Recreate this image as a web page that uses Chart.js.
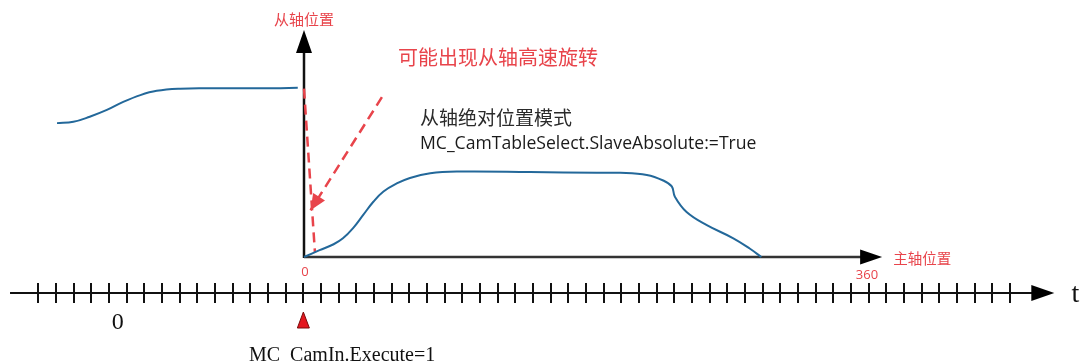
<!DOCTYPE html>
<html lang="zh">
<head>
<meta charset="utf-8">
<title>MC_CamIn 从轴绝对位置模式</title>
<script src="https://cdn.jsdelivr.net/npm/chart.js@4.4.1/dist/chart.umd.min.js"></script>
<style>
  html, body { margin: 0; padding: 0; background: #fff; }
  #wrap { width: 1085px; height: 362px; position: relative; }
</style>
</head>
<body>
<div id="wrap"><canvas id="camChart"></canvas></div>
<script>
// Cam profile after MC_CamIn (master in degrees, slave in % of stroke)
const camMaster = [0, 10, 19, 25, 31.5, 38, 44.5, 51, 59.5, 68, 81, 98, 145, 188, 203, 220, 230.5, 236, 238, 245.5, 258.5, 275.5, 286, 293.5];
const camSlave  = [0, 8, 15, 22, 34, 49.5, 65, 77, 86.5, 93, 98.5, 100.5, 100, 99, 99, 96.5, 90, 83, 71, 53, 37.5, 22, 10, 0];

// Slave motion before the cam gets engaged
const prevMaster = [-158.5, -148, -137.5, -126.5, -116, -105, -94.5, -79.5, -62.5, -41, -19.5, -4];
const prevSlave  = [157.5, 159, 165, 173, 182.5, 190.5, 195.5, 198, 198.5, 198.5, 198.5, 199];

// Red dashed lines: possible jump of the slave
const jumpMaster = [0, 7];
const jumpSlave  = [198, 6];
const jumpArrowMaster = [50, 4.2];
const jumpArrowSlave  = [188, 55];

// Axes
const masterLabels  = ['0', '360'];
const masterLabelAt = [0, 360];
const timeTickCount = 56;
const timeLabels    = ['0'];
const timeLabelAt   = [4.5];
const camInTick     = 15;

const W = 1085, H = 362;
const ORIGIN_X = 304, ORIGIN_Y = 257;
const PX_PER_DEG = 561 / 360;
const PX_PER_UNIT = 0.85;
const TICK0_X = 38.3, TICK_PX = 17.67;
const TIME_AXIS_Y = 293;
const SLAVE_AXIS_END = 267;
const MASTER_AXIS_END = 371;
const TIME_AXIS_START = -1.6, TIME_AXIS_END = 57.5;

const RED = '#e8444b';
const BLUE = '#23689a';

function toPoints(xs, ys) {
    return xs.map((x, i) => ({ x: x, y: ys[i] }));
}

function arrowHead(ctx, tipX, tipY, angle, len, half, color) {
    ctx.save();
    ctx.translate(tipX, tipY);
    ctx.rotate(angle);
    ctx.beginPath();
    ctx.moveTo(0, 0);
    ctx.lineTo(-len, -half);
    ctx.lineTo(-len, half);
    ctx.closePath();
    ctx.fillStyle = color;
    ctx.fill();
    ctx.restore();
}

function text(ctx, str, x, y, font, color, align) {
    ctx.font = font;
    ctx.fillStyle = color;
    ctx.textAlign = align || 'left';
    ctx.textBaseline = 'middle';
    ctx.fillText(str, x, y);
}

// Axes, ticks, arrows and labels of the diagram
const diagramPlugin = {
    id: 'diagram',
    beforeDatasetsDraw(chart) {
        const ctx = chart.ctx;
        const sx = chart.scales.x, sy = chart.scales.y, st = chart.scales.xt;
        const ox = sx.getPixelForValue(0), oy = sy.getPixelForValue(0);
        ctx.save();
        ctx.lineCap = 'butt';

        // slave axis
        const yTop = sy.getPixelForValue(SLAVE_AXIS_END);
        ctx.strokeStyle = '#111';
        ctx.lineWidth = 2.5;
        ctx.beginPath();
        ctx.moveTo(ox, oy + 1);
        ctx.lineTo(ox, yTop + 20);
        ctx.stroke();
        arrowHead(ctx, ox, yTop, -Math.PI / 2, 23, 8, '#000');

        // master axis
        const xEnd = sx.getPixelForValue(MASTER_AXIS_END);
        ctx.strokeStyle = '#333';
        ctx.beginPath();
        ctx.moveTo(ox, oy);
        ctx.lineTo(xEnd - 20, oy);
        ctx.stroke();
        arrowHead(ctx, xEnd, oy, 0, 22, 7.5, '#000');

        // time axis
        const tEnd = st.getPixelForValue(TIME_AXIS_END);
        ctx.strokeStyle = '#111';
        ctx.lineWidth = 2;
        ctx.beginPath();
        ctx.moveTo(st.getPixelForValue(TIME_AXIS_START), TIME_AXIS_Y);
        ctx.lineTo(tEnd - 20, TIME_AXIS_Y);
        ctx.stroke();
        arrowHead(ctx, tEnd, TIME_AXIS_Y, 0, 23, 8, '#000');

        ctx.beginPath();
        for (let i = 0; i < timeTickCount; i++) {
            const px = Math.round(st.getPixelForValue(i));
            ctx.moveTo(px, TIME_AXIS_Y - 10);
            ctx.lineTo(px, TIME_AXIS_Y + 10);
        }
        ctx.stroke();
        ctx.restore();
    },
    afterDatasetsDraw(chart) {
        const ctx = chart.ctx;
        const sx = chart.scales.x, sy = chart.scales.y, st = chart.scales.xt;
        ctx.save();

        // arrow head of the dashed jump line
        const x0 = sx.getPixelForValue(jumpArrowMaster[0]), y0 = sy.getPixelForValue(jumpArrowSlave[0]);
        const x1 = sx.getPixelForValue(jumpArrowMaster[1]), y1 = sy.getPixelForValue(jumpArrowSlave[1]);
        arrowHead(ctx, x1, y1, Math.atan2(y1 - y0, x1 - x0), 16, 7, RED);

        // axis labels
        const cjk = '"Noto Sans CJK SC", "Noto Sans", sans-serif';
        text(ctx, '从轴位置', sx.getPixelForValue(0), 19, '15px ' + cjk, RED, 'center');
        text(ctx, '主轴位置', sx.getPixelForValue(MASTER_AXIS_END) + 11, 258, '14.5px ' + cjk, RED, 'left');
        masterLabels.forEach((lbl, i) => {
            text(ctx, lbl, sx.getPixelForValue(masterLabelAt[i]) + (i ? 2 : 1), i ? 275 : 272,
                 '13px "Open Sans", sans-serif', RED, 'center');
        });

        // notes
        text(ctx, '可能出现从轴高速旋转', 398, 57, '20px ' + cjk, RED, 'left');
        text(ctx, '从轴绝对位置模式', 420, 118, '19px ' + cjk, '#2a2a2a', 'left');
        text(ctx, 'MC_CamTableSelect.SlaveAbsolute:=True', 420, 144, '17.6px "Open Sans", sans-serif', '#1a1a1a', 'left');

        // time axis labels
        const serif = '"Liberation Serif", "DejaVu Serif", serif';
        timeLabels.forEach((lbl, i) => {
            text(ctx, lbl, st.getPixelForValue(timeLabelAt[i]), 323, '24px ' + serif, '#111', 'center');
        });
        ctx.font = '28px ' + serif;
        ctx.fillStyle = '#111';
        ctx.textAlign = 'center';
        ctx.textBaseline = 'alphabetic';
        ctx.fillText('t', st.getPixelForValue(TIME_AXIS_END) + 21, 302);

        // MC_CamIn.Execute marker
        const mx = st.getPixelForValue(camInTick);
        ctx.beginPath();
        ctx.moveTo(mx, 312);
        ctx.lineTo(mx + 6, 328);
        ctx.lineTo(mx - 6, 328);
        ctx.closePath();
        ctx.fillStyle = '#e3161e';
        ctx.fill();
        ctx.strokeStyle = '#7a0a0a';
        ctx.lineWidth = 1;
        ctx.stroke();
        ctx.font = '20px ' + serif;
        ctx.fillStyle = '#111';
        ctx.textAlign = 'left';
        ctx.textBaseline = 'alphabetic';
        ctx.fillText('MC_CamIn.Execute=1', 249, 361);
        ctx.restore();
    }
};

const ctx = document.getElementById('camChart').getContext('2d');
const camChart = new Chart(ctx, {
    type: 'scatter',
    data: {
        datasets: [
            {
                label: 'prev',
                data: toPoints(prevMaster, prevSlave),
                showLine: true,
                borderColor: BLUE,
                borderWidth: 2,
                pointRadius: 0,
                tension: 0.4
            },
            {
                label: 'cam',
                data: toPoints(camMaster, camSlave),
                showLine: true,
                borderColor: BLUE,
                borderWidth: 2,
                pointRadius: 0,
                tension: 0.4
            },
            {
                label: 'jump',
                data: toPoints(jumpMaster, jumpSlave),
                showLine: true,
                borderColor: RED,
                borderWidth: 2.5,
                borderDash: [10, 6],
                pointRadius: 0
            },
            {
                label: 'jumpArrow',
                data: toPoints(jumpArrowMaster, jumpArrowSlave),
                showLine: true,
                borderColor: RED,
                borderWidth: 2.5,
                borderDash: [10, 6],
                pointRadius: 0
            }
        ]
    },
    options: {
        responsive: true,
        maintainAspectRatio: false,
        animation: false,
        events: [],
        layout: { padding: 0 },
        plugins: {
            legend: { display: false },
            tooltip: { enabled: false }
        },
        scales: {
            x: {
                type: 'linear',
                display: false,
                min: -ORIGIN_X / PX_PER_DEG,
                max: (W - ORIGIN_X) / PX_PER_DEG
            },
            xt: {
                type: 'linear',
                axis: 'x',
                display: false,
                min: -TICK0_X / TICK_PX,
                max: (W - TICK0_X) / TICK_PX
            },
            y: {
                type: 'linear',
                display: false,
                min: -(H - ORIGIN_Y) / PX_PER_UNIT,
                max: ORIGIN_Y / PX_PER_UNIT
            }
        }
    },
    plugins: [diagramPlugin]
});
</script>
</body>
</html>
